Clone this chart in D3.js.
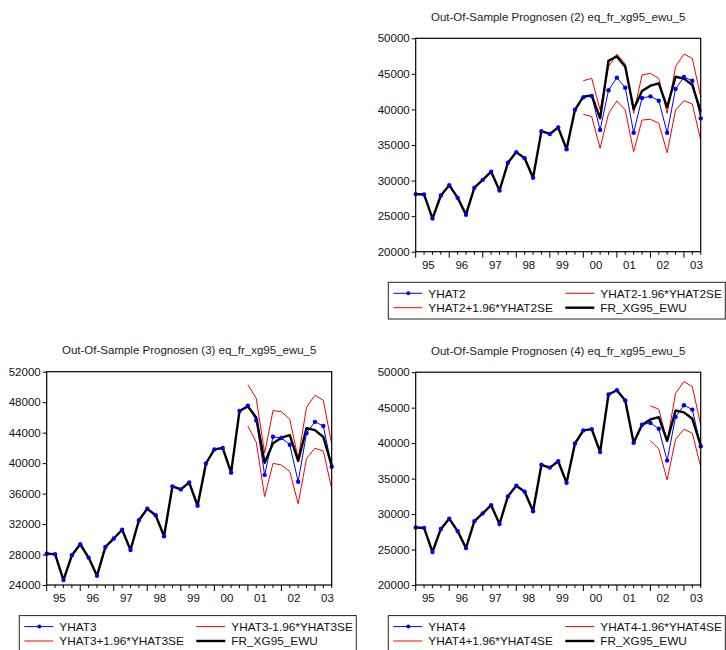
<!DOCTYPE html>
<html><head><meta charset="utf-8">
<script src="https://cdn.jsdelivr.net/npm/d3@7"></script>
<style>
body{margin:0;background:#fff;}
svg{display:block;font-family:"Liberation Sans",Arial,sans-serif;}
</style></head>
<body><svg id="c" width="726" height="650"></svg>
<script>
// ---------- DATA ----------
const periods = ["1995Q1","1995Q2","1995Q3","1995Q4","1996Q1","1996Q2","1996Q3","1996Q4",
"1997Q1","1997Q2","1997Q3","1997Q4","1998Q1","1998Q2","1998Q3","1998Q4",
"1999Q1","1999Q2","1999Q3","1999Q4","2000Q1","2000Q2","2000Q3","2000Q4",
"2001Q1","2001Q2","2001Q3","2001Q4","2002Q1","2002Q2","2002Q3","2002Q4",
"2003Q1","2003Q2","2003Q3"];
const yearLabels = ["95","96","97","98","99","00","01","02","03"];

const actual = [28100,28050,24650,27900,29350,27600,25200,29000,30100,31250,28600,32500,
34000,33150,30400,36950,36550,37450,34400,39950,41800,41980,38750,46850,47450,46000,
40050,42600,43340,43670,40300,44600,44330,43430,39680];

// Panel (2): forecasts from 2000Q1
const fcStart2 = "2000Q1";
const yhat2 = [41700,41890,37100,42690,44470,43060,36730,41610,41840,41230,36730,42870,44560,44040,38750];
const upper2 = [44040,44370,39920,46000,47790,46390,39450,44840,45070,44370,39450,46010,47790,47180,41790];
const lower2 = [39310,39000,34530,39400,41190,39920,34060,38510,38610,38050,33920,39920,41230,40760,35700];

// Panel (3): forecasts from 2001Q1
const fcStart3 = "2001Q1";
const yhat3 = [47550,45600,38450,43470,43300,42420,37560,43950,45420,44870,39530];
const upper3 = [50300,48500,41300,46900,46750,45750,40600,47350,48900,48250,42500];
const lower3 = [44850,42750,35600,39970,39750,38900,34650,40600,41950,41600,36650];

// Panel (4): forecasts from 2002Q1
const fcStart4 = "2002Q1";
const yhat4 = [42850,42030,37540,43700,45340,44730,39560];
const upper4 = [45250,44780,40220,47030,48680,47970,42570];
const lower4 = [40360,39180,34810,40550,41960,41390,36690];

const yTicksA = [20000,25000,30000,35000,40000,45000,50000];
const yTicksB = [24000,28000,32000,36000,40000,44000,48000,52000];

// ---------- DRAW ----------
const svg = d3.select("#c");

function drawPanel(o){
  const g = svg.append("g");
  const x = d3.scalePoint().domain(periods).range([o.left, o.right]);
  const y = d3.scaleLinear().domain([o.yTicks[0], o.yTicks[o.yTicks.length-1]]).range([o.bottom, o.top]);
  const step = x.step();
  const s = periods.indexOf(o.fcStart);
  const fcP = periods.slice(s);
  const blue = actual.slice(0, s).concat(o.yhat);

  // title
  g.append("text").attr("x",(o.left+o.right)/2).attr("y",o.top-17.5)
    .attr("text-anchor","middle").attr("font-size","11.5px").attr("fill","#222").text(o.title);

  // y axis
  const ya = g.append("g").attr("transform",`translate(${o.left},0)`)
    .call(d3.axisLeft(y).tickValues(o.yTicks).tickSize(4).tickSizeOuter(0).tickFormat(d3.format("d")));
  ya.select(".domain").remove();
  ya.selectAll("line").attr("stroke","#000");
  ya.selectAll("text").attr("font-size","11.5px").attr("fill","#111").attr("font-family","Liberation Sans, Arial, sans-serif").attr("x",-6);

  // x ticks
  g.selectAll(".xt").data(periods).enter().append("line")
    .attr("x1",d=>x(d)).attr("x2",d=>x(d))
    .attr("y1",o.bottom).attr("y2",d=>o.bottom+(d.endsWith("Q1")?6:3))
    .attr("stroke","#000").attr("stroke-width",1);
  g.selectAll(".xl").data(yearLabels).enter().append("text")
    .attr("x",(d,i)=>x(periods[i*4])+1.5*step).attr("y",o.bottom+17)
    .attr("text-anchor","middle").attr("font-size","11.5px").attr("fill","#111").text(d=>d);

  const line = d3.line();
  // blue line
  g.append("path").attr("d",line(periods.map((p,i)=>[x(p),y(blue[i])])))
    .attr("fill","none").attr("stroke","#0000ff").attr("stroke-width",1);
  // red bands
  [o.upper,o.lower].forEach(arr=>{
    g.append("path").attr("d",line(fcP.map((p,i)=>[x(p),y(arr[i])])))
      .attr("fill","none").attr("stroke","#ff0000").attr("stroke-width",1);
  });
  // black actual
  g.append("path").attr("d",line(periods.map((p,i)=>[x(p),y(actual[i])])))
    .attr("fill","none").attr("stroke","#000").attr("stroke-width",2.4).attr("stroke-linejoin","round");
  // blue dots
  g.selectAll(".dot").data(periods).enter().append("circle")
    .attr("cx",p=>x(p)).attr("cy",(p,i)=>y(blue[i])).attr("r",2.2).attr("fill","#0000ff");

  // frame
  g.append("rect").attr("x",o.left).attr("y",o.top).attr("width",o.right-o.left).attr("height",o.bottom-o.top)
    .attr("fill","none").attr("stroke","#000").attr("stroke-width",1.2);

  // legend
  const lx = o.left-27.4, ly = o.bottom+30.6;
  g.append("rect").attr("x",lx).attr("y",ly).attr("width",337).attr("height",36.7)
    .attr("fill","none").attr("stroke","#222").attr("stroke-width",1);
  const n = o.name;
  const items = [
    {t:n, c:"#0000ff", w:1, dot:true, col:0, row:0},
    {t:n+"-1.96*"+n+"SE", c:"#ff0000", w:1, col:1, row:0},
    {t:n+"+1.96*"+n+"SE", c:"#ff0000", w:1, col:0, row:1},
    {t:"FR_XG95_EWU", c:"#000", w:2.4, col:1, row:1}
  ];
  items.forEach(it=>{
    const x0 = it.col===0 ? lx+5 : lx+177;
    const yy = ly+11+it.row*14.4;
    g.append("line").attr("x1",x0).attr("x2",x0+29).attr("y1",yy).attr("y2",yy)
      .attr("stroke",it.c).attr("stroke-width",it.w);
    if(it.dot) g.append("circle").attr("cx",x0+15).attr("cy",yy).attr("r",2).attr("fill",it.c);
    g.append("text").attr("x",x0+35).attr("y",yy+4.2).attr("font-size","11.8px").attr("fill","#111").text(it.t);
  });
}

drawPanel({left:415.7,right:700.7,top:38.3,bottom:251.7,yTicks:yTicksA,
  title:"Out-Of-Sample Prognosen (2) eq_fr_xg95_ewu_5",name:"YHAT2",
  fcStart:fcStart2,yhat:yhat2,upper:upper2,lower:lower2});
drawPanel({left:46.7,right:331.7,top:371.7,bottom:585,yTicks:yTicksB,
  title:"Out-Of-Sample Prognosen (3) eq_fr_xg95_ewu_5",name:"YHAT3",
  fcStart:fcStart3,yhat:yhat3,upper:upper3,lower:lower3});
drawPanel({left:415.7,right:700.7,top:372.2,bottom:585,yTicks:yTicksA,
  title:"Out-Of-Sample Prognosen (4) eq_fr_xg95_ewu_5",name:"YHAT4",
  fcStart:fcStart4,yhat:yhat4,upper:upper4,lower:lower4});
</script></body></html>
